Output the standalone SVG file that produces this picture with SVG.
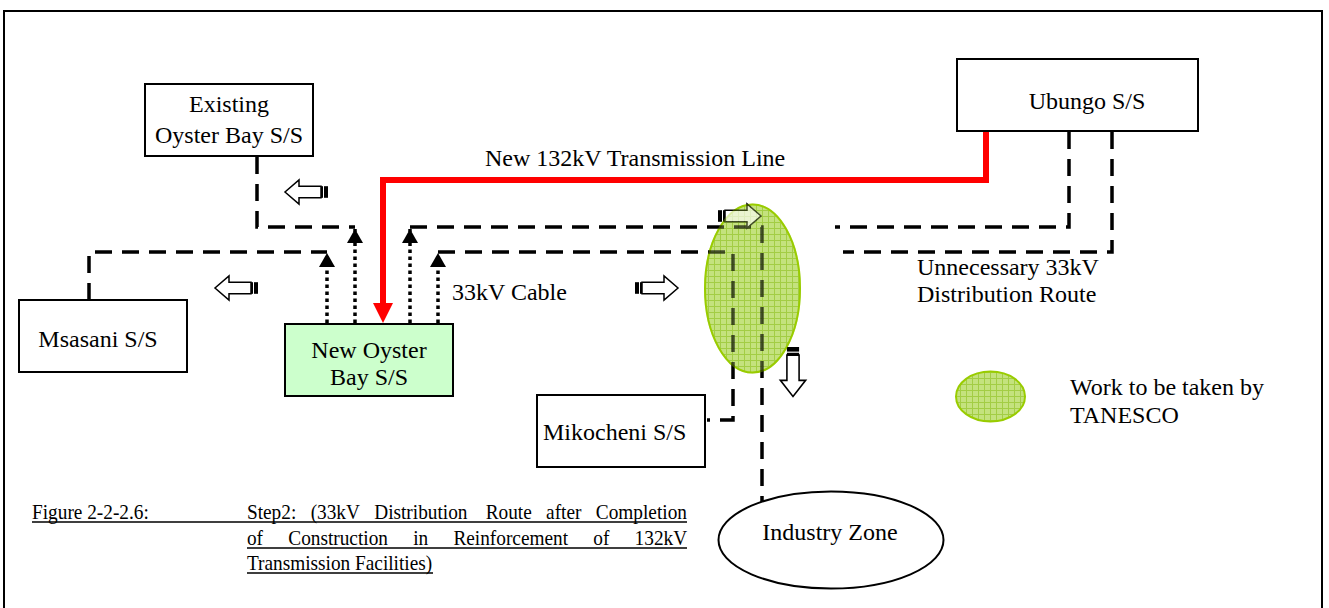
<svg xmlns="http://www.w3.org/2000/svg" xmlns:xlink="http://www.w3.org/1999/xlink" width="1329" height="608" viewBox="0 0 1329 608">
<style>
text{font-family:"Liberation Serif","Times New Roman",serif;font-size:24px;fill:#000}
.box{fill:#fff;stroke:#000;stroke-width:2}
.dash{fill:none;stroke:#000;stroke-width:3.5;stroke-dasharray:17 10}
.dot{fill:none;stroke:#000;stroke-width:3.5;stroke-dasharray:3.5 3.5}
.red{fill:none;stroke:#ff0000;stroke-width:6}
.work{fill:url(#grid);stroke:#99cc00;stroke-width:2}
.cap{font-size:22px}
</style>
<defs>
<pattern id="grid" width="6" height="6" patternUnits="userSpaceOnUse">
<rect width="6" height="6" fill="#c4e27e"/>
<path d="M0,0.5H6M0.5,0V6" stroke="#a3cd45" stroke-width="1"/>
</pattern>
<marker id="tri" markerUnits="userSpaceOnUse" markerWidth="14" markerHeight="16" refX="14" refY="8" orient="auto">
<path d="M0,0L14,8L0,16z" fill="#000"/>
</marker>
<marker id="redhead" markerUnits="userSpaceOnUse" markerWidth="20" markerHeight="20" refX="0" refY="10" orient="auto">
<path d="M0,0L20,10L0,20z" fill="#ff0000"/>
</marker>
<g id="barrow">
<rect x="0" y="-5.8" width="4" height="11.6" fill="#000"/>
<rect x="5" y="-5.8" width="2" height="11.6" fill="#000"/>
<path d="M7,-5.8H29V-12L43,0L29,12V5.8H7Z" fill="#fff" stroke="#000" stroke-width="1.5"/>
</g>
</defs>

<rect width="1329" height="608" fill="#fff"/>
<path id="frame" d="M4,612V11H1322V612" fill="none" stroke="#000" stroke-width="2"/>

<g id="work-area">
<ellipse id="work-ellipse" cx="752.5" cy="288.5" rx="47.5" ry="84" class="work"/>
</g>

<g id="connectors">
<path class="dash" d="M257,157V227H355"/>
<path class="dash" d="M89,300V252H327"/>
<path class="dash" d="M410,227H762V515"/>
<path class="dash" d="M438,252H733V420H707"/>
<path class="dash" d="M1069,132V227H835"/>
<path class="dash" d="M1112,132V252H843"/>
<path class="dot" d="M327,323V253" marker-end="url(#tri)"/>
<path class="dot" d="M355,323V229" marker-end="url(#tri)"/>
<path class="dot" d="M410,323V229" marker-end="url(#tri)"/>
<path class="dot" d="M438,323V253" marker-end="url(#tri)"/>
<path class="red" d="M986,131V180H383V303" marker-end="url(#redhead)"/>
</g>

<g id="flow-arrows">
<use xlink:href="#barrow" transform="translate(328,192) rotate(180)"/>
<use xlink:href="#barrow" transform="translate(258,288) rotate(180)"/>
<use xlink:href="#barrow" transform="translate(635,288)"/>
<use xlink:href="#barrow" transform="translate(718,216)"/>
<use xlink:href="#barrow" transform="translate(793,347) rotate(90) scale(1.15,1.05)"/>
</g>

<use id="work-tint" xlink:href="#work-ellipse" opacity="0.35"/>

<g id="existing-oyster-bay">
<rect class="box" x="145" y="84" width="168" height="72"/>
<text x="229" y="112" text-anchor="middle">Existing</text>
<text x="229" y="143" text-anchor="middle">Oyster Bay S/S</text>
</g>

<g id="msasani">
<rect class="box" x="19" y="300" width="168" height="72"/>
<text x="98" y="347" text-anchor="middle">Msasani S/S</text>
</g>

<g id="new-oyster-bay">
<rect x="285" y="324" width="168" height="72" fill="#ccffcc" stroke="#000" stroke-width="2"/>
<text x="369" y="358" text-anchor="middle">New Oyster</text>
<text x="369" y="385" text-anchor="middle">Bay S/S</text>
</g>

<g id="ubungo">
<rect class="box" x="957" y="59" width="241" height="72"/>
<text x="1087" y="109" text-anchor="middle">Ubungo S/S</text>
</g>

<g id="mikocheni">
<rect class="box" x="537" y="395" width="168" height="72"/>
<text x="543" y="440">Mikocheni S/S</text>
</g>

<g id="industry-zone">
<ellipse cx="831" cy="540" rx="112.5" ry="48.5" fill="#fff" stroke="#000" stroke-width="2"/>
<text x="830" y="540" text-anchor="middle">Industry Zone</text>
</g>

<g id="labels">
<text x="485" y="166">New 132kV Transmission Line</text>
<text x="452" y="300">33kV Cable</text>
<text x="917" y="275">Unnecessary 33kV</text>
<text x="917" y="302">Distribution Route</text>
</g>

<g id="legend">
<ellipse cx="990.5" cy="396.5" rx="34.5" ry="25" class="work"/>
<text x="1070" y="395">Work to be taken by</text>
<text x="1070" y="423">TANESCO</text>
</g>

<g id="caption">
<g transform="scale(0.877,1)">
<text class="cap" y="519"><tspan x="36.5">Figure 2-2-2.6:</tspan><tspan x="281.6">Step2:</tspan><tspan x="354.2">(33kV</tspan><tspan x="426.7">Distribution</tspan><tspan x="553.8">Route</tspan><tspan x="622.7">after</tspan><tspan x="679.4">Completion</tspan></text>
<text class="cap" y="545"><tspan x="281.6">of</tspan><tspan x="328.7">Construction</tspan><tspan x="471.2">in</tspan><tspan x="517.0">Reinforcement</tspan><tspan x="676.5">of</tspan><tspan x="723.6">132kV</tspan></text>
<text class="cap" y="570" x="281.6">Transmission Facilities)</text>
</g>
<path d="M32,522H687M247,548H687M247,573H433" stroke="#000" stroke-width="1.3" fill="none"/>
</g>
</svg>
